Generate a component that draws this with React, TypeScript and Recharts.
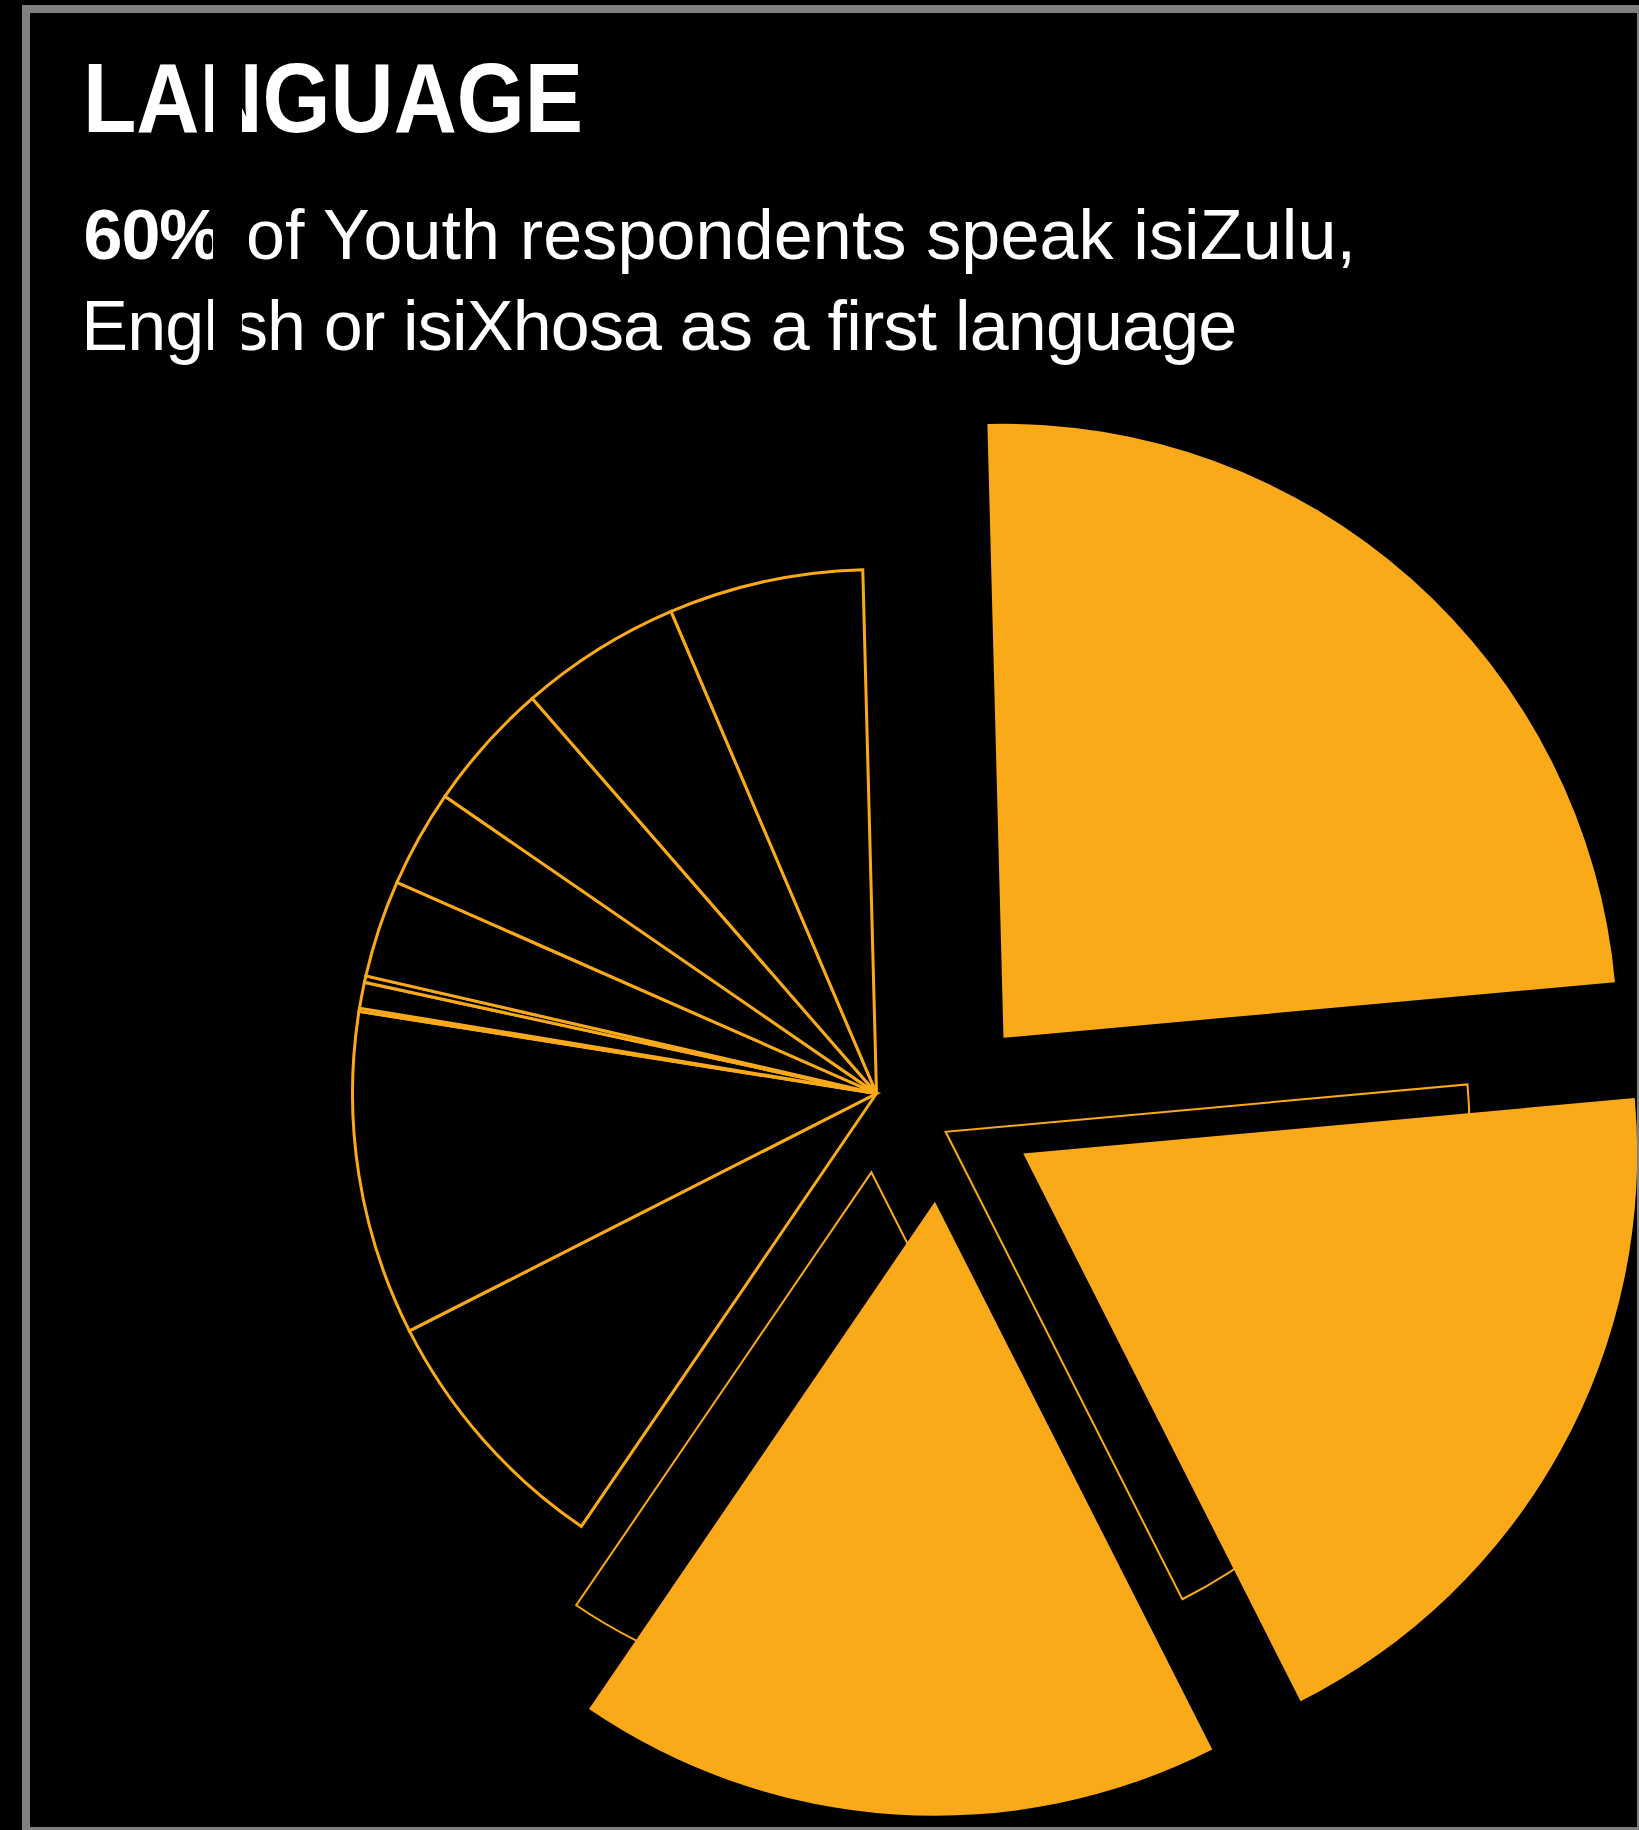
import React from "react";
import { PieChart, Pie, Cell } from "recharts";

// first-language share of youth respondents, clockwise from the top
const languages = [
  "isiZulu",
  "English",
  "isiXhosa",
  "Setswana",
  "Afrikaans",
  "Sign language",
  "isiNdebele",
  "Other",
  "Tshivenda",
  "siSwati",
  "Xitsonga",
  "Sepedi",
  "Sesotho",
];
const shares = [24, 19, 17, 8, 10, 0.1, 0.8, 0.2, 3, 3, 4, 5, 6];
const highlighted = ["isiZulu", "English", "isiXhosa"];

const data = languages.map((name, i) => ({ name, value: shares[i] }));

const ORANGE = "#FAAA19";
const W = 1639;
const H = 1830;
const START = 91.5;

// outline ring
const ring = { x: 876.5, y: 1093.5, r: 524, explode: 79 };
// filled highlight slices
const solid = { x: 941, y: 1108, r: 614, explode: 94 };

const total = shares.reduce((a, b) => a + b, 0);
function midAngle(idx: number) {
  let acc = 0;
  for (let i = 0; i < idx; i++) acc += shares[i];
  return START - ((acc + shares[idx] / 2) / total) * 360;
}
function shifted(base: { x: number; y: number }, idx: number, d: number) {
  const a = (midAngle(idx) * Math.PI) / 180;
  return { cx: base.x + d * Math.cos(a), cy: base.y - d * Math.sin(a) };
}

export default function App() {
  const hiIdx = highlighted.map((n) => languages.indexOf(n));

  return (
    <div
      style={{
        position: "absolute",
        left: 0,
        top: 0,
        width: W,
        height: H,
        background: "#000",
        overflow: "hidden",
      }}
    >
      <PieChart width={W} height={H} margin={{ top: 0, right: 0, bottom: 0, left: 0 }}>
        {/* base ring, highlighted slices left out */}
        <Pie
          data={data}
          dataKey="value"
          nameKey="name"
          cx={ring.x}
          cy={ring.y}
          outerRadius={ring.r}
          startAngle={START}
          endAngle={START - 360}
          isAnimationActive={false}
        >
          {data.map((d) => (
            <Cell
              key={d.name}
              fill={highlighted.includes(d.name) ? "none" : "#000"}
              stroke={highlighted.includes(d.name) ? "none" : ORANGE}
              strokeWidth={3}
            />
          ))}
        </Pie>
        {/* pulled-out outlines for English and isiXhosa */}
        {hiIdx.slice(1).map((idx) => {
          const p = shifted(ring, idx, ring.explode);
          return (
            <Pie
              key={"o" + idx}
              data={data}
              dataKey="value"
              nameKey="name"
              cx={p.cx}
              cy={p.cy}
              outerRadius={ring.r}
              startAngle={START}
              endAngle={START - 360}
              isAnimationActive={false}
            >
              {data.map((d, i) => (
                <Cell
                  key={d.name}
                  fill={i === idx ? "#000" : "none"}
                  stroke={i === idx ? ORANGE : "none"}
                  strokeWidth={2}
                />
              ))}
            </Pie>
          );
        })}
        {/* solid highlight slices */}
        {hiIdx.map((idx) => {
          const p = shifted(solid, idx, solid.explode);
          return (
            <Pie
              key={"s" + idx}
              data={data}
              dataKey="value"
              nameKey="name"
              cx={p.cx}
              cy={p.cy}
              outerRadius={solid.r}
              startAngle={START}
              endAngle={START - 360}
              isAnimationActive={false}
            >
              {data.map((d, i) => (
                <Cell
                  key={d.name}
                  fill={i === idx ? ORANGE : "none"}
                  stroke="none"
                />
              ))}
            </Pie>
          );
        })}
      </PieChart>

      <svg
        width={W}
        height={H}
        style={{ position: "absolute", left: 0, top: 0, pointerEvents: "none" }}
        fontFamily="'Liberation Sans', Arial, sans-serif"
      >
        <text
          x={83}
          y={132}
          fill="#fff"
          fontSize={98}
          fontWeight="bold"
          textLength={500}
          lengthAdjust="spacingAndGlyphs"
        >
          LANGUAGE
        </text>
        <text x={83.5} y={259} fill="#fff" fontSize={70} fontWeight="bold" letterSpacing={-1}>
          60%
        </text>
        <text x={246} y={259} fill="#fff" fontSize={70} textLength={1110}>
          of Youth respondents speak isiZulu,
        </text>
        <text x={81.3} y={350} fill="#fff" fontSize={70} textLength={1156}>
          English or isiXhosa as a first language
        </text>
        <rect x={213} y={40} width={29} height={330} fill="#000" />
        <rect x={26} y={9} width={1615} height={1822} fill="none" stroke="#808080" strokeWidth={8} />
      </svg>
    </div>
  );
}
